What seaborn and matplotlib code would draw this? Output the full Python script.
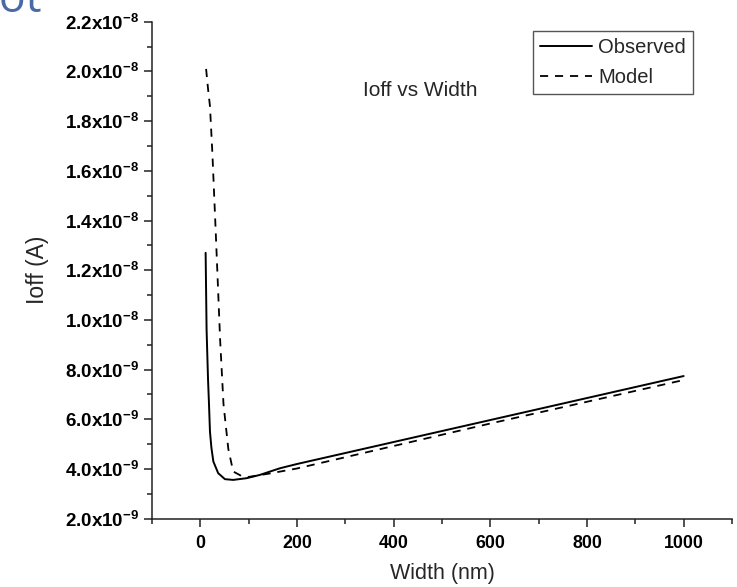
import pandas as pd
import matplotlib
matplotlib.use("Agg")
import matplotlib.pyplot as plt
import seaborn as sns
from matplotlib.ticker import MultipleLocator, FuncFormatter

# values (Ioff in units of 1e-9 A)
obs_width = [11, 13, 16, 18, 20, 23, 27, 37, 51, 68, 96, 123, 165, 200, 600, 1000]
obs_ioff = [12.7, 9.6, 7.6, 6.6, 5.5, 4.85, 4.3, 3.83, 3.59, 3.56, 3.63, 3.76, 4.03, 4.2, 5.97, 7.74]

model_width = [12, 16, 20, 25, 32, 41, 48, 58, 68, 85, 100, 144, 200, 600, 1000]
model_ioff = [20.1, 19.3, 18.6, 16.7, 13.5, 9.2, 6.6, 4.8, 3.9, 3.72, 3.68, 3.82, 4.02, 5.83, 7.58]

obs = pd.DataFrame({"Width": obs_width, "Ioff": [v * 1e-9 for v in obs_ioff]})
model = pd.DataFrame({"Width": model_width, "Ioff": [v * 1e-9 for v in model_ioff]})

sns.set_style("ticks")
plt.rcParams["font.family"] = ["Liberation Sans", "DejaVu Sans"]
plt.rcParams["mathtext.fontset"] = "custom"
plt.rcParams["mathtext.rm"] = "Liberation Sans"
plt.rcParams["mathtext.bf"] = "Liberation Sans:bold"

fig = plt.figure(figsize=(7.37, 5.87), dpi=100)
ax = fig.add_axes([0.2062, 0.1164, 0.787, 0.8466])

sns.lineplot(data=obs, x="Width", y="Ioff", ax=ax, color="black", lw=1.4,
             label="Observed", sort=False)
sns.lineplot(data=model, x="Width", y="Ioff", ax=ax, color="black", lw=1.3,
             label="Model", sort=False, dashes=False)
ax.lines[1].set_dashes((4.5, 3.8))

ax.set_xlim(-100, 1100)
ax.set_ylim(2e-9, 2.2e-8)
ax.xaxis.set_major_locator(MultipleLocator(200))
ax.xaxis.set_minor_locator(MultipleLocator(100))
ax.yaxis.set_major_locator(MultipleLocator(2e-9))
ax.yaxis.set_minor_locator(MultipleLocator(1e-9))


def sci_fmt(v, pos):
    m, e = f"{v:.1e}".split("e")
    return rf"$\mathbf{{{m}x10^{{{int(e)}}}}}$"


ax.yaxis.set_major_formatter(FuncFormatter(sci_fmt))
for lab in ax.get_xticklabels():
    lab.set_fontweight("bold")
ax.tick_params(axis="both", which="major", direction="out", length=6, width=1.1,
               colors="#222222", labelcolor="black")
ax.tick_params(axis="x", which="major", labelsize=12.8, pad=6)
ax.tick_params(axis="y", which="major", labelsize=13.5, pad=3)
ax.tick_params(axis="both", which="minor", direction="out", length=3.5, width=1.1,
               colors="#222222")

sns.despine(ax=ax)
for s in ("left", "bottom"):
    ax.spines[s].set_linewidth(1.1)
    ax.spines[s].set_color("#222222")

ax.set_xlabel("Width (nm)", fontsize=15.5, labelpad=8)
ax.set_ylabel("Ioff (A)", fontsize=16.5, labelpad=12)

ax.text(0.364, 0.861, "Ioff vs Width", transform=ax.transAxes, fontsize=15,
        ha="left", va="center")

leg = ax.legend(loc="upper right", bbox_to_anchor=(0.933, 0.981), borderaxespad=0,
                fontsize=14.5, handlelength=2.6, handletextpad=0.3,
                labelspacing=0.55, borderpad=0.35, fancybox=False, framealpha=1)
leg.get_frame().set_edgecolor("#555555")
leg.get_frame().set_linewidth(1.0)

# cut-off slide title in the top-left corner
fig.text(0.057, 0.9796, "Plot", color="#4a6aa5", fontsize=32, ha="right",
         va="baseline", family=["Open Sans", "DejaVu Sans"])

fig.savefig("out.png", dpi=100)
